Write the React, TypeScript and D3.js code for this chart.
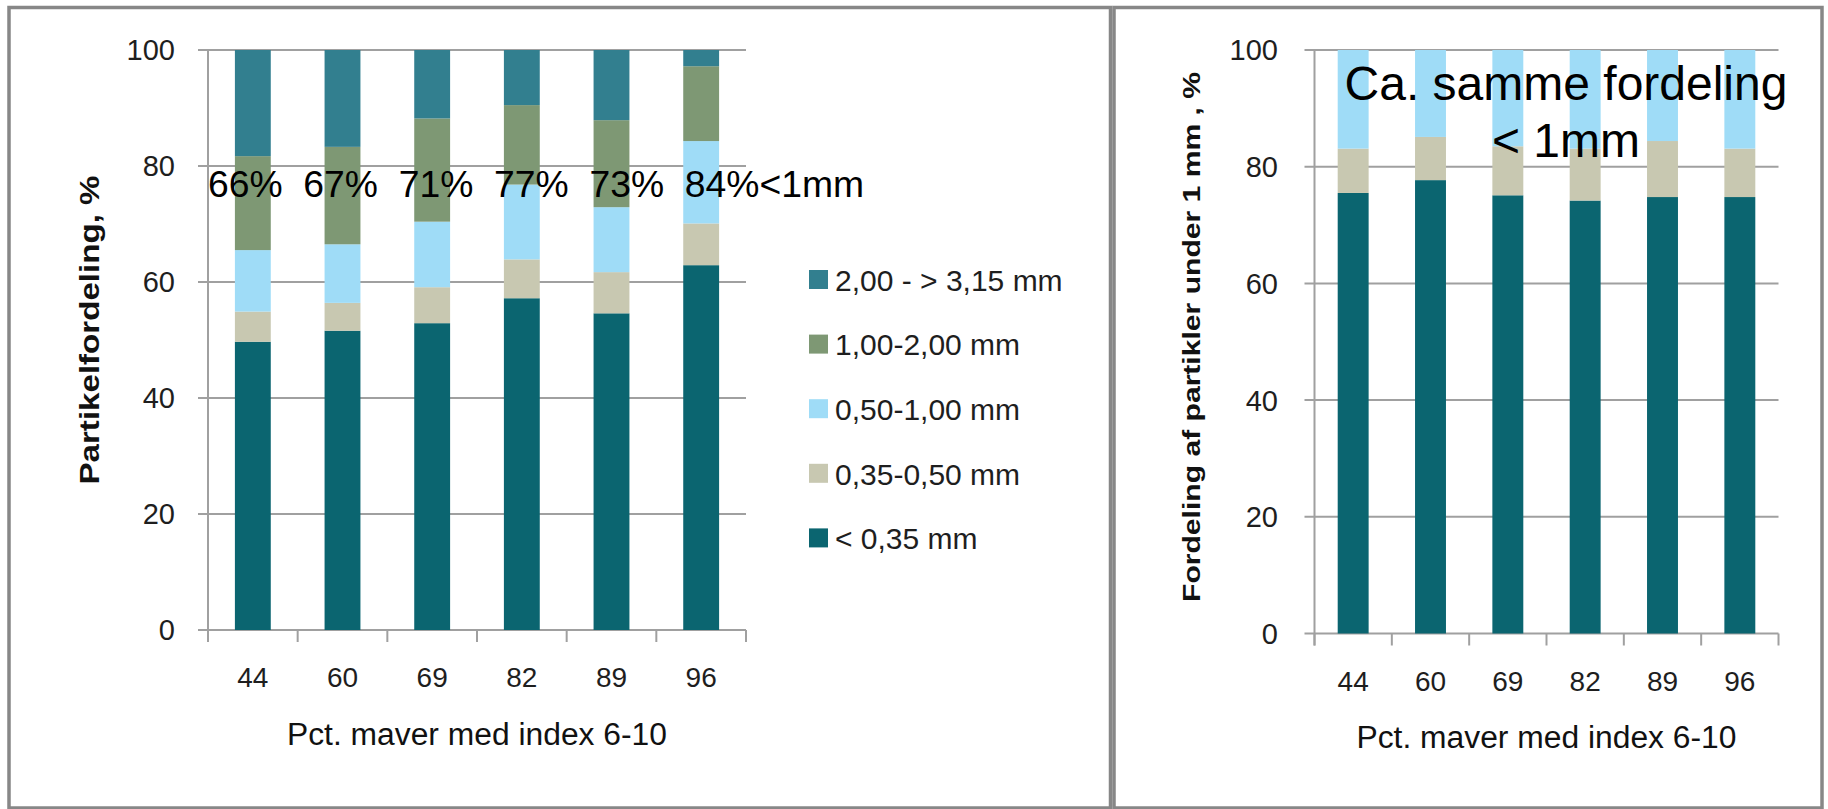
import React from "react";
import * as d3 from "d3";

const categories = ["44", "60", "69", "82", "89", "96"];
const seriesNames = ["< 0,35 mm", "0,35-0,50 mm", "0,50-1,00 mm", "1,00-2,00 mm", "2,00 - > 3,15 mm"];
const seriesColors = ["#0b6570", "#c8c8b1", "#9fdcf7", "#7e9874", "#327f8f"];

// left chart (bottom to top)
const lt035 = [49.7, 51.6, 52.9, 57.2, 54.6, 62.9];
const s035to050 = [5.2, 4.8, 6.2, 6.7, 7.1, 7.2];
const s050to100 = [10.6, 10.1, 11.3, 12.9, 11.2, 14.2];
const s100to200 = [16.2, 16.8, 17.8, 13.7, 15.0, 12.9];
const s200to315 = [18.3, 16.7, 11.8, 9.5, 12.1, 2.8];

// right chart: particles under 1 mm
const rLt035 = [75.5, 77.7, 75.1, 74.2, 74.8, 74.8];
const r035to050 = [7.6, 7.4, 8.4, 8.9, 9.6, 8.3];
const r050to100 = [16.9, 14.9, 16.5, 16.9, 15.6, 16.9];

const under1mmLabels = ["66%", "67%", "71%", "77%", "73%", "84%"];
const yTicks = [0, 20, 40, 60, 80, 100];

const FONT = "'Liberation Sans', Arial, sans-serif";
const GRID = "#a0a0a0";
const TXT = "#1e1e1e";

type PanelProps = {
  series: number[][];
  colors: string[];
  x0: number; x1: number; yTop: number; yBottom: number;
  tickLabelRight: number;
  title: string; titleX: number; titleY: number; titleLen: number; titleSize: number;
  xTitleY: number;
};

function Panel(p: PanelProps) {
  const x = d3.scaleBand<string>().domain(categories).range([p.x0, p.x1]).paddingInner(0.6).paddingOuter(0.3);
  const y = d3.scaleLinear().domain([0, 100]).range([p.yBottom, p.yTop]);
  const rows = categories.map((c, i) => {
    const r: any = { cat: c };
    p.series.forEach((s, k) => (r["s" + k] = s[i]));
    return r;
  });
  const keys = p.series.map((_, k) => "s" + k);
  const stacked = d3.stack().keys(keys)(rows);
  const step = x.step();
  const boundaries = d3.range(categories.length + 1).map((i) => p.x0 + i * step);
  return (
    <g>
      {yTicks.map((t) => (
        <g key={t}>
          <line x1={p.x0 - 10} x2={p.x1} y1={y(t)} y2={y(t)} stroke={GRID} strokeWidth={2} />
          <text x={p.tickLabelRight} y={y(t)} dy="0.36em" textAnchor="end" fontSize={29} fontFamily={FONT} fill={TXT}>
            {t}
          </text>
        </g>
      ))}
      <line x1={p.x0} x2={p.x0} y1={p.yTop} y2={p.yBottom + 12} stroke={GRID} strokeWidth={2} />
      {boundaries.map((bx, i) => (
        <line key={i} x1={bx} x2={bx} y1={p.yBottom} y2={p.yBottom + 12} stroke={GRID} strokeWidth={2} />
      ))}
      {stacked.map((layer, k) => (
        <g key={k} fill={p.colors[k]}>
          {layer.map((d: any, i: number) => (
            <rect key={i} x={x(categories[i])} width={x.bandwidth()} y={y(d[1])} height={y(d[0]) - y(d[1])} />
          ))}
        </g>
      ))}
      {categories.map((c) => (
        <text key={c} x={(x(c) as number) + x.bandwidth() / 2} y={p.yBottom + 57} textAnchor="middle" fontSize={28} fontFamily={FONT} fill={TXT}>
          {c}
        </text>
      ))}
      <text
        x={(p.x0 + p.x1) / 2}
        y={p.xTitleY}
        textAnchor="middle"
        fontSize={31}
        fontFamily={FONT}
        fill="#111"
        textLength={380}
        lengthAdjust="spacingAndGlyphs"
      >
        Pct. maver med index 6-10
      </text>
      <text
        transform={`translate(${p.titleX},${p.titleY}) rotate(-90)`}
        textAnchor="middle"
        dy="0.35em"
        fontSize={p.titleSize}
        fontWeight="bold"
        fontFamily={FONT}
        fill="#111"
        textLength={p.titleLen}
        lengthAdjust="spacingAndGlyphs"
      >
        {p.title}
      </text>
    </g>
  );
}

export default function App() {
  const legendOrder = [4, 3, 2, 1, 0];
  return (
    <svg width={1828} height={809} style={{ position: "absolute", left: 0, top: 0, display: "block", background: "#fff" }}>
      <rect x={9} y={7.5} width={1101.5} height={800.5} fill="#fff" stroke="#878787" strokeWidth={3.5} />
      <rect x={1114} y={7.5} width={708} height={800.5} fill="#fff" stroke="#878787" strokeWidth={3.5} />

      <Panel
        series={[lt035, s035to050, s050to100, s100to200, s200to315]}
        colors={seriesColors}
        x0={208} x1={746} yTop={50} yBottom={630}
        tickLabelRight={175}
        title="Partikelfordeling, %" titleX={90} titleY={330} titleLen={309} titleSize={27}
        xTitleY={745}
      />
      <Panel
        series={[rLt035, r035to050, r050to100]}
        colors={seriesColors.slice(0, 3)}
        x0={1314.5} x1={1778.5} yTop={50} yBottom={633.5}
        tickLabelRight={1278}
        title="Fordeling af partikler under 1 mm , %" titleX={1192} titleY={337} titleLen={530} titleSize={23}
        xTitleY={748}
      />

      {legendOrder.map((k, i) => (
        <g key={k} transform={`translate(809,${280 + i * 64.6})`}>
          <rect x={0} y={-10} width={19} height={19} fill={seriesColors[k]} />
          <text x={26} y={0} dy="0.36em" fontSize={30} fontFamily={FONT} fill={TXT}>
            {seriesNames[k]}
          </text>
        </g>
      ))}

      <text x={208} y={197} fontSize={37.3} fontFamily={FONT} fill="#000" style={{ whiteSpace: "pre" }}>
        {under1mmLabels.join("  ") + "<1mm"}
      </text>

      <text x={1566} y={100} textAnchor="middle" fontSize={48} fontFamily={FONT} fill="#000">
        Ca. samme fordeling
      </text>
      <text x={1566} y={157} textAnchor="middle" fontSize={48} fontFamily={FONT} fill="#000">
        {"< 1mm"}
      </text>
    </svg>
  );
}
